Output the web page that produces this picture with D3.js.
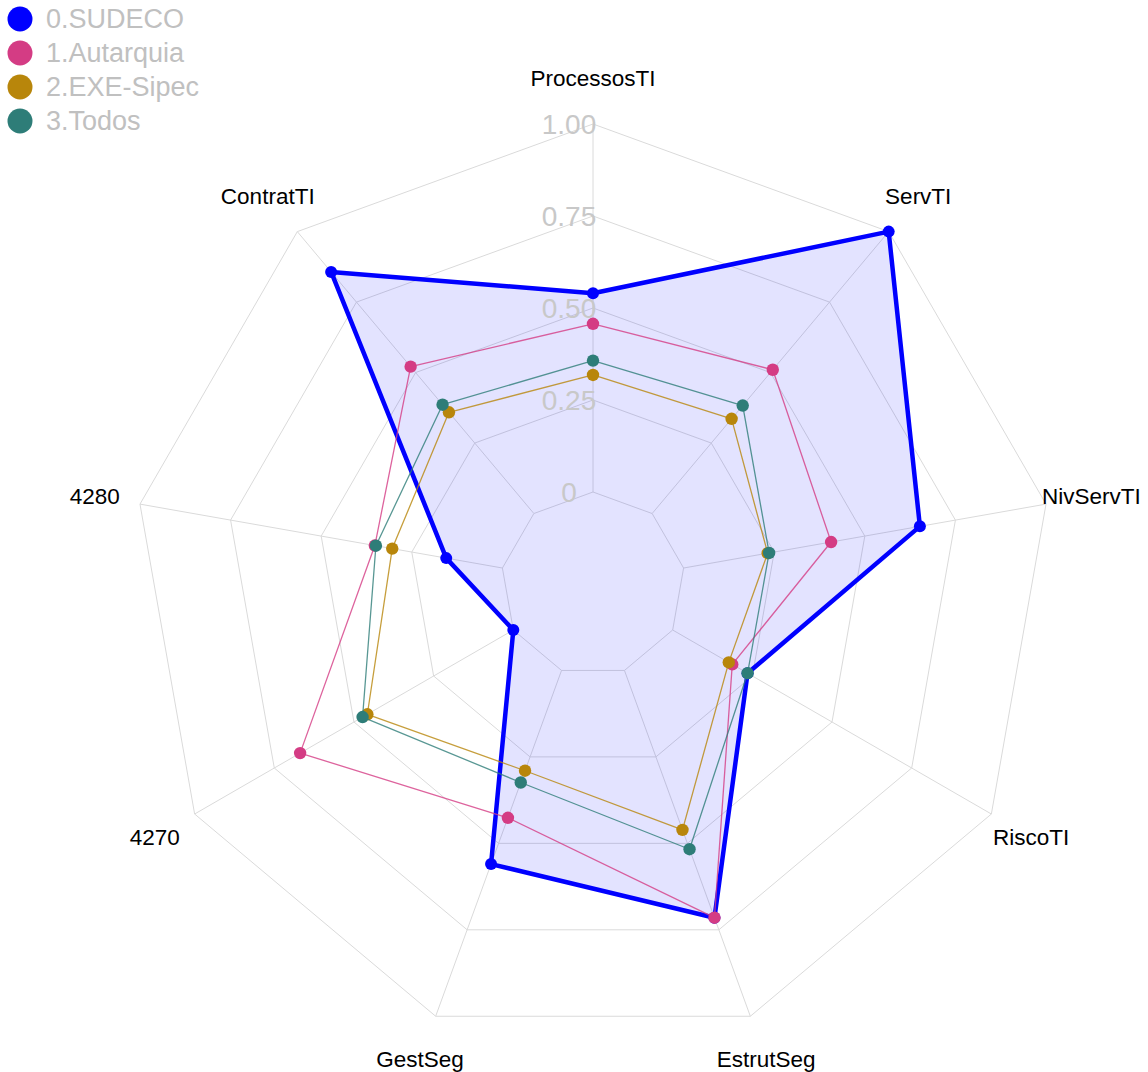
<!DOCTYPE html>
<html lang="en">
<head>
<meta charset="UTF-8">
<title>Radar chart</title>
<script src="https://d3js.org/d3.v7.min.js"></script>
<style>
    body { margin: 0; background: white; }
    svg { display: block; font-family: "Liberation Sans", Arial, sans-serif; }
</style>
</head>
<body>
<div id="chart"></div>
<script>
// axis order, clockwise from the top
const axes = ["ProcessosTI", "ServTI", "NivServTI", "RiscoTI", "EstrutSeg", "GestSeg", "4270", "4280", "ContratTI"];
const groups = ["0.SUDECO", "1.Autarquia", "2.EXE-Sipec", "3.Todos"];
const groupColors = ["#0000ff", "#d43c84", "#b8860b", "#2e7d78"];

// values (same order as axes)
const sudeco    = [0.540, 1.000, 0.652, 0.235, 0.715, 0.560, 0.000, 0.155, 0.857];
const autarquia = [0.457, 0.510, 0.407, 0.187, 0.715, 0.426, 0.669, 0.352, 0.521];
const exeSipec  = [0.318, 0.336, 0.232, 0.176, 0.461, 0.290, 0.458, 0.304, 0.359];
const todos     = [0.357, 0.383, 0.236, 0.235, 0.517, 0.324, 0.473, 0.349, 0.386];

const gridValues = [0, 0.25, 0.5, 0.75, 1];
const gridLabels = ["0", "0.25", "0.50", "0.75", "1.00"];

const series = [sudeco, autarquia, exeSipec, todos];

const W = 1148, H = 1072;
const cx = 593, cy = 584;

const svg = d3.select("#chart").append("svg")
    .attr("width", W)
    .attr("height", H);

const g = svg.append("g").attr("transform", `translate(${cx},${cy})`);

// radius: value 0 sits on a small inner ring, not at the centre
const r = d3.scaleLinear().domain([0, 1]).range([92, 460]);
const angle = d3.scaleLinear().domain([0, axes.length]).range([0, 2 * Math.PI]);

const px = (v, i) => r(v) * Math.sin(angle(i));
const py = (v, i) => -r(v) * Math.cos(angle(i));

const ring = v => axes.map((a, i) => [px(v, i), py(v, i)]);
const closed = d3.line().curve(d3.curveLinearClosed);

// grid rings
g.selectAll(".ring")
    .data(gridValues)
    .join("path")
    .attr("class", "ring")
    .attr("d", v => closed(ring(v)))
    .attr("fill", "none")
    .attr("stroke", "#dadada")
    .attr("stroke-width", 1);

// spokes from the inner ring outwards
g.selectAll(".spoke")
    .data(axes)
    .join("line")
    .attr("class", "spoke")
    .attr("x1", (a, i) => px(0, i))
    .attr("y1", (a, i) => py(0, i))
    .attr("x2", (a, i) => px(1, i))
    .attr("y2", (a, i) => py(1, i))
    .attr("stroke", "#dadada")
    .attr("stroke-width", 1);

// filled area of the first group
g.append("path")
    .attr("d", closed(sudeco.map((v, i) => [px(v, i), py(v, i)])))
    .attr("fill", "#0000ff")
    .attr("fill-opacity", 0.11)
    .attr("stroke", "none");

// grid value labels
g.selectAll(".gridlabel")
    .data(gridValues)
    .join("text")
    .attr("class", "gridlabel")
    .attr("x", -24)
    .attr("y", v => -r(v))
    .attr("text-anchor", "middle")
    .attr("dominant-baseline", "central")
    .attr("font-size", 28)
    .attr("fill", "#c8c8c8")
    .text((v, i) => gridLabels[i]);

// lines and points, first group at the bottom
series.forEach((vals, k) => {
    const pts = vals.map((v, i) => [px(v, i), py(v, i)]);
    const grp = g.append("g");
    grp.append("path")
        .attr("d", closed(pts))
        .attr("fill", "none")
        .attr("stroke", groupColors[k])
        .attr("stroke-width", k === 0 ? 4.5 : 1.3)
        .attr("stroke-opacity", k === 0 ? 1 : 0.8)
        .attr("stroke-linejoin", "round");
    grp.selectAll("circle")
        .data(pts)
        .join("circle")
        .attr("cx", d => d[0])
        .attr("cy", d => d[1])
        .attr("r", k === 0 ? 6 : 6.2)
        .attr("fill", groupColors[k]);
});

// axis labels
g.selectAll(".axislabel")
    .data(axes)
    .join("text")
    .attr("class", "axislabel")
    .attr("x", (a, i) => px(1.125, i))
    .attr("y", (a, i) => py(1.125, i))
    .attr("text-anchor", "middle")
    .attr("dominant-baseline", "central")
    .attr("font-size", 22.5)
    .attr("fill", "#000")
    .text(a => a);

// legend top-left
const legend = svg.append("g").attr("transform", "translate(20,19)");
const item = legend.selectAll("g")
    .data(groups)
    .join("g")
    .attr("transform", (d, i) => `translate(0,${i * 34})`);
item.append("circle")
    .attr("r", 12.5)
    .attr("fill", (d, i) => groupColors[i]);
item.append("text")
    .attr("x", 26)
    .attr("dominant-baseline", "central")
    .attr("font-size", 27)
    .attr("fill", "#c0c0c0")
    .text(d => d);
</script>
</body>
</html>
